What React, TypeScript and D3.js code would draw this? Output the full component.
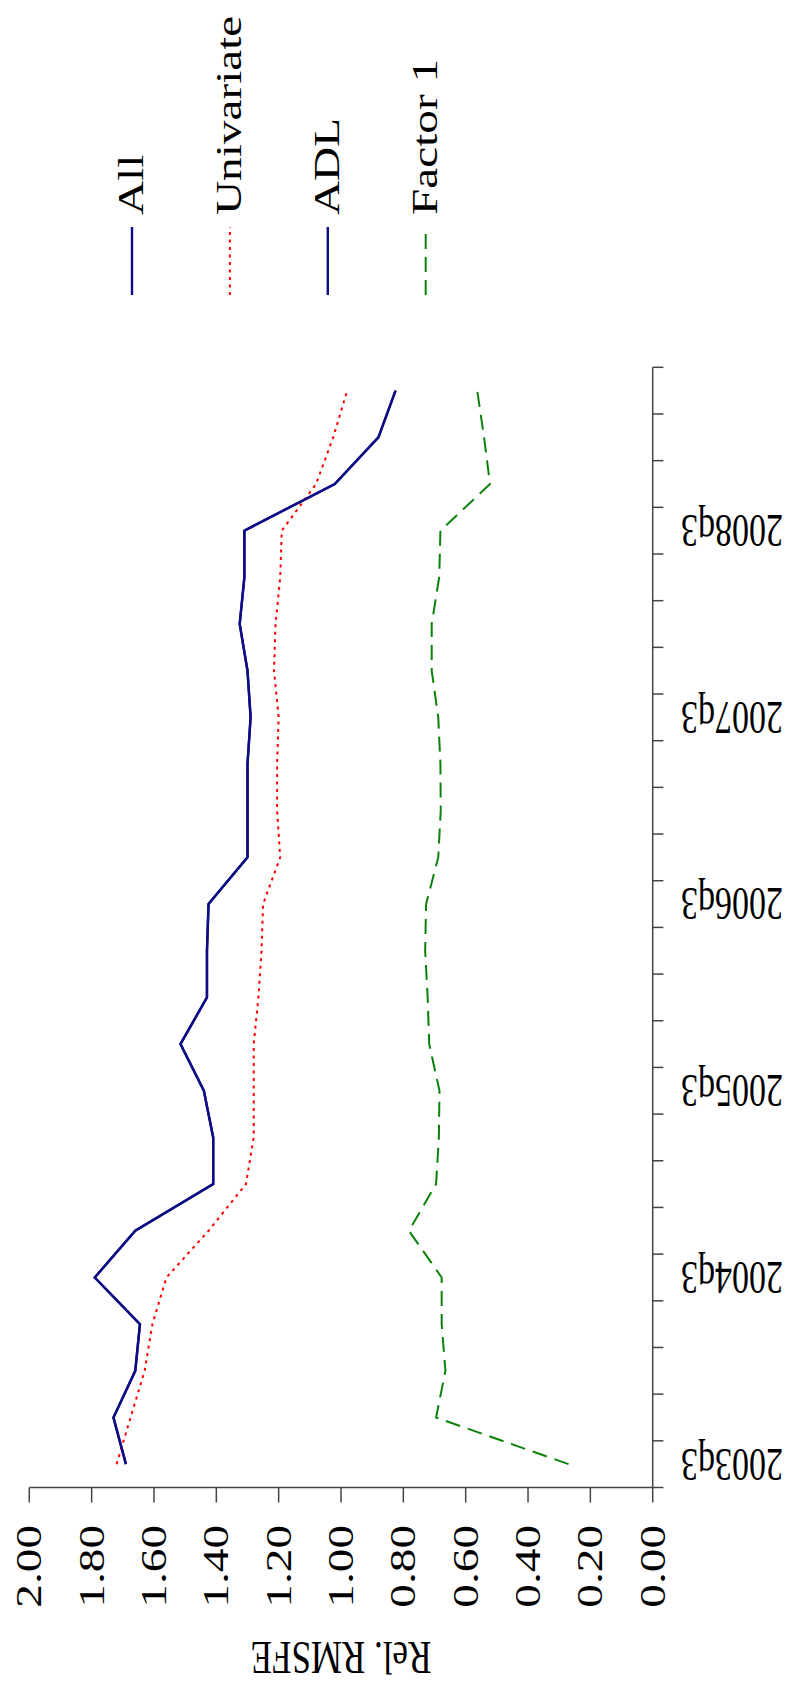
import React from "react";
import * as d3 from "d3";

const width = 791;
const height = 1690;

// quarters on the time axis (bottom to top in the picture)
const quarters = [
  "2003q3", "2003q4", "2004q1", "2004q2", "2004q3", "2004q4",
  "2005q1", "2005q2", "2005q3", "2005q4", "2006q1", "2006q2",
  "2006q3", "2006q4", "2007q1", "2007q2", "2007q3", "2007q4",
  "2008q1", "2008q2", "2008q3", "2008q4", "2009q1", "2009q2",
];
const labelQuarters = ["2003q3", "2004q3", "2005q3", "2006q3", "2007q3", "2008q3"];
const valueTicks = [0, 0.2, 0.4, 0.6, 0.8, 1.0, 1.2, 1.4, 1.6, 1.8, 2.0];

const allValues = [
  1.69, 1.73, 1.66, 1.645, 1.79, 1.66, 1.41, 1.41, 1.44, 1.515, 1.43, 1.43,
  1.425, 1.3, 1.3, 1.3, 1.29, 1.3, 1.325, 1.31, 1.31, 1.02, 0.88, 0.825,
];
const univariateValues = [
  1.72, 1.675, 1.63, 1.605, 1.56, 1.425, 1.305, 1.28, 1.28, 1.28, 1.265, 1.255,
  1.25, 1.195, 1.205, 1.205, 1.2, 1.215, 1.21, 1.195, 1.19, 1.08, 1.025, 0.98,
];
const adlValues = [
  1.69, 1.73, 1.66, 1.645, 1.79, 1.66, 1.41, 1.41, 1.44, 1.515, 1.43, 1.43,
  1.425, 1.3, 1.3, 1.3, 1.29, 1.3, 1.325, 1.31, 1.31, 1.02, 0.88, 0.825,
];
const factor1Values = [
  0.27, 0.695, 0.665, 0.677, 0.677, 0.782, 0.695, 0.686, 0.684, 0.717, 0.722, 0.73,
  0.727, 0.688, 0.68, 0.681, 0.688, 0.709, 0.709, 0.685, 0.681, 0.522, 0.541, 0.563,
];

const series = [
  { name: "All", values: allValues, color: "#0c0c84", width: 2.4, dash: "" },
  { name: "Univariate", values: univariateValues, color: "#ff0000", width: 2, dash: "3,4.5" },
  { name: "ADL", values: adlValues, color: "#0c0c84", width: 2.4, dash: "" },
  { name: "Factor 1", values: factor1Values, color: "#0a820a", width: 2, dash: "15,8" },
];

const font = "'Liberation Serif', 'Times New Roman', serif";
const stretch = 1.35; // the picture is taller than it is wide, text is stretched along y

const x = d3.scaleLinear().domain([0, 2]).range([652.7, 29.3]);
const y = d3.scaleBand().domain(quarters).range([1487.5, 367.3]).padding(0);
const bw = y.bandwidth();

const axisY = 1487.5;
const axisX = 652.7;

export default function App() {
  const line = d3
    .line<number>()
    .x(d => x(d))
    .y((d, i) => (y(quarters[i]) as number) + bw / 2);

  const bandEdges = quarters.map(q => y(q) as number).concat([axisY]);

  return (
    <svg
      width={width}
      height={height}
      style={{ position: "absolute", left: 0, top: 0, display: "block", background: "#fff" }}
    >
      {/* series lines */}
      {series.map(s => (
        <path
          key={s.name}
          d={line(s.values) || ""}
          fill="none"
          stroke={s.color}
          strokeWidth={s.width}
          strokeDasharray={s.dash || undefined}
          strokeLinejoin="miter"
        />
      ))}

      {/* value axis (bottom) */}
      <line x1={x(2)} x2={x(0)} y1={axisY} y2={axisY} stroke="#444" strokeWidth={1.5} />
      {valueTicks.map(v => (
        <g key={v}>
          <line x1={x(v)} x2={x(v)} y1={axisY} y2={axisY + 15} stroke="#444" strokeWidth={1.5} />
          <text
            transform={`translate(${x(v)},1525) scale(1,${stretch}) rotate(-90)`}
            textAnchor="end"
            dy="0.34em"
            fontFamily={font}
            fontSize={35}
            fill="#000"
          >
            {d3.format(".2f")(v)}
          </text>
        </g>
      ))}
      <text
        transform={`translate(${(x(0) + x(2)) / 2},1658) scale(1,${stretch}) rotate(180)`}
        textAnchor="middle"
        dy="0.33em"
        fontFamily={font}
        fontSize={35}
        fill="#000"
      >
        Rel. RMSFE
      </text>

      {/* time axis (right) */}
      <line x1={axisX} x2={axisX} y1={y.range()[1]} y2={axisY} stroke="#444" strokeWidth={1.5} />
      {bandEdges.map((e, i) => (
        <line key={i} x1={axisX} x2={axisX + 10.7} y1={e} y2={e} stroke="#444" strokeWidth={1.5} />
      ))}
      {labelQuarters.map(q => (
        <text
          key={q}
          transform={`translate(783,${(y(q) as number) + bw / 2}) scale(1,${stretch}) rotate(180)`}
          textAnchor="start"
          dy="0.34em"
          fontFamily={font}
          fontSize={34}
          fill="#000"
        >
          {q}
        </text>
      ))}

      {/* legend */}
      {series.map((s, i) => {
        const lx = 132 + i * 97.9;
        return (
          <g key={s.name}>
            <line
              x1={lx}
              x2={lx}
              y1={295}
              y2={227}
              stroke={s.color}
              strokeWidth={s.width}
              strokeDasharray={s.dash || undefined}
            />
            <text
              transform={`translate(${lx + 11},215) scale(1,${stretch}) rotate(-90)`}
              textAnchor="start"
              fontFamily={font}
              fontSize={35}
              fill="#000"
            >
              {s.name}
            </text>
          </g>
        );
      })}
    </svg>
  );
}
